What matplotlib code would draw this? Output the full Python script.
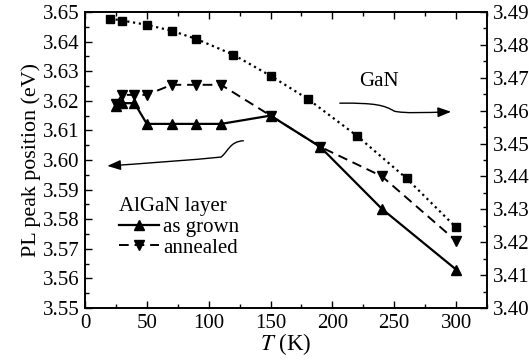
import matplotlib
matplotlib.use("Agg")
import matplotlib.pyplot as plt
from matplotlib.path import Path
from matplotlib.patches import FancyArrowPatch
from matplotlib.ticker import MultipleLocator, FormatStrFormatter

plt.rcParams["font.family"] = ["Liberation Serif", "DejaVu Serif"]
plt.rcParams["mathtext.fontset"] = "stix"
plt.rcParams["font.size"] = 15

# AlGaN layer (left axis, eV)
t_algan = [25, 30, 40, 50, 70, 90, 110, 150, 190, 240, 300]
e_grown = [3.6183, 3.6192, 3.6192, 3.6122, 3.6122, 3.6122, 3.6122, 3.6150, 3.6045, 3.5835, 3.5630]
e_annealed = [3.6190, 3.6220, 3.6220, 3.6220, 3.6254, 3.6254, 3.6254, 3.6150, 3.6045, 3.5945, 3.5727]

# GaN (right axis, eV)
t_gan = [20, 30, 50, 70, 90, 120, 150, 180, 220, 260, 300]
e_gan = [3.4880, 3.4874, 3.4861, 3.4843, 3.4818, 3.4770, 3.4706, 3.4636, 3.4523, 3.4394, 3.4245]

fig = plt.figure(figsize=(5.29, 3.60), dpi=100)
ax = fig.add_axes([0.1607, 0.1444, 0.7599, 0.8223])
ax2 = ax.twinx()

ax.plot(t_algan, e_grown, "k-", marker="^", ms=7.5, lw=1.6, label="as grown")
ax.plot(t_algan, e_annealed, "k--", marker="v", ms=7.5, lw=1.4, dashes=(5, 3),
        label="annealed")
ax2.plot(t_gan, e_gan, "k:", marker="s", ms=5.5, lw=1.6)

ax.set_xlim(0, 325)
ax.set_ylim(3.55, 3.65)
ax2.set_ylim(3.40, 3.49)

ax.xaxis.set_major_locator(MultipleLocator(50))
ax.xaxis.set_minor_locator(MultipleLocator(25))
ax.yaxis.set_major_locator(MultipleLocator(0.01))
ax.yaxis.set_minor_locator(MultipleLocator(0.005))
ax.yaxis.set_major_formatter(FormatStrFormatter("%.2f"))
ax2.yaxis.set_major_locator(MultipleLocator(0.01))
ax2.yaxis.set_minor_locator(MultipleLocator(0.005))
ax2.yaxis.set_major_formatter(FormatStrFormatter("%.2f"))

ax.tick_params(which="both", direction="in", top=True, pad=4)
ax.tick_params(which="major", length=5, width=1)
ax.tick_params(which="minor", length=3, width=1)
ax2.tick_params(which="both", direction="in", pad=4)
ax2.tick_params(which="major", length=5, width=1)
ax2.tick_params(which="minor", length=3, width=1)
for a in (ax, ax2):
    for s in a.spines.values():
        s.set_linewidth(1.2)

ax.set_xlabel("$T$ (K)", labelpad=-1, fontsize=16.5)
ax.set_ylabel("PL peak position (eV)", labelpad=1, fontsize=15.8)

leg = ax.legend(title="AlGaN layer", loc="lower left", bbox_to_anchor=(0.085, 0.17),
                frameon=False, handlelength=1.9, handletextpad=0.2,
                labelspacing=0.05, borderpad=0, borderaxespad=0,
                fontsize=15, title_fontsize=15)
leg._legend_box.align = "left"

ax.text(238, 3.6264, "GaN", ha="center", va="center")

# curved arrows pointing to each axis
left_arrow = Path([(128, 3.6065), (117, 3.6062), (116, 3.6030), (110, 3.6010),
                   (90, 3.6001), (40, 3.5986), (18, 3.5980)],
                  [Path.MOVETO, Path.CURVE4, Path.CURVE4, Path.CURVE4,
                   Path.CURVE4, Path.CURVE4, Path.CURVE4])
ax.add_patch(FancyArrowPatch(path=left_arrow, arrowstyle="-|>,head_length=8,head_width=3",
                             color="k", lw=1.0))
right_arrow = Path([(206, 3.6192), (235, 3.6193), (242, 3.6185), (250, 3.6165),
                    (258, 3.6157), (275, 3.6160), (296, 3.6163)],
                   [Path.MOVETO, Path.CURVE4, Path.CURVE4, Path.CURVE4,
                    Path.CURVE4, Path.CURVE4, Path.CURVE4])
ax.add_patch(FancyArrowPatch(path=right_arrow, arrowstyle="-|>,head_length=8,head_width=3",
                             color="k", lw=1.0))

fig.savefig("out.png", dpi=100)
